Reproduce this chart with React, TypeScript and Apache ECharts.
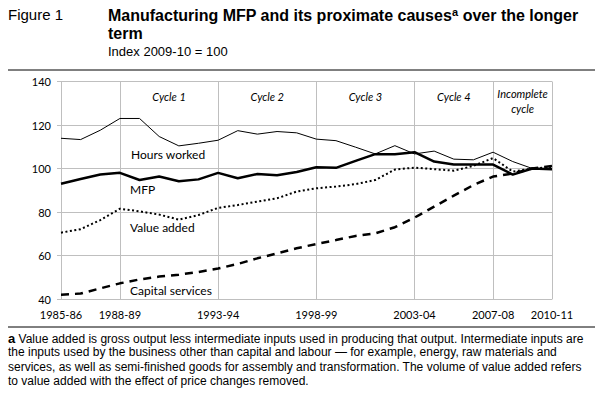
import React, { useEffect, useRef } from "react";
import * as echarts from "echarts";

const categories = [
  "1985-86", "1986-87", "1987-88", "1988-89", "1989-90", "1990-91", "1991-92",
  "1992-93", "1993-94", "1994-95", "1995-96", "1996-97", "1997-98", "1998-99",
  "1999-00", "2000-01", "2001-02", "2002-03", "2003-04", "2004-05", "2005-06",
  "2006-07", "2007-08", "2008-09", "2009-10", "2010-11",
];

const hoursWorked = [
  113.9, 113.3, 117.6, 123, 123, 114.7, 110.4, 111.6, 113, 117.4, 115.8, 117, 116.4,
  113.5, 112.8, 109.8, 106.7, 110.5, 106.7, 108, 104.3, 104, 107.5, 103.2, 100, 99.5,
];
const mfp = [
  93, 95.2, 97.2, 98, 94.7, 96.3, 94.1, 95, 98, 95.5, 97.5, 96.9, 98.4,
  100.6, 100.3, 103.5, 106.6, 106.6, 107.5, 103.2, 101.8, 101.8, 101.8, 97.2, 100, 99.6,
];
const valueAdded = [
  70.5, 72.1, 76.3, 81.5, 80.3, 78.8, 76.5, 78.6, 81.9, 83.2, 84.8, 86.3, 89.4,
  90.9, 91.7, 92.8, 94.7, 99.5, 100.4, 99.7, 99, 101.2, 104.8, 98.6, 100, 100.6,
];
const capitalServices = [
  42, 42.5, 44.9, 47.2, 49, 50.3, 51.2, 52.4, 54, 56.1, 58.7, 61, 63.3,
  65.3, 67.1, 69, 70.2, 73, 77.4, 82.5, 87.5, 92.4, 96.3, 97.7, 100, 101.2,
];

const labelIndices = [0, 3, 8, 13, 18, 22, 25];
const gridIndices = [3, 8, 13, 18, 22, 25];

const cycleNames = ["Cycle 1", "Cycle 2", "Cycle 3", "Cycle 4", "Incomplete\ncycle"];
const cycleStarts = ["1988-89", "1993-94", "1998-99", "2003-04", "2007-08"];
const cycleEnds = ["1993-94", "1998-99", "2003-04", "2007-08", "2010-11"];

const yTicks = { min: 40, max: 140, interval: 20 };

const footLines = [
  " Value added is gross output less intermediate inputs used in producing that output. Intermediate inputs are",
  "the inputs used by the business other than capital and labour \u2014 for example, energy, raw materials and",
  "services, as well as semi-finished goods for assembly and transformation. The volume of value added refers",
  "to value added with the effect of price changes removed.",
];

const CHART_FONT = "Lato, 'Open Sans', sans-serif";
const DOC_FONT = "'Liberation Sans', Arial, sans-serif";
const GRID_COLOR = "#bfbfbf";

export default function App() {
  const ref = useRef<HTMLDivElement>(null);

  useEffect(() => {
    if (!ref.current) return;
    const chart = echarts.init(ref.current, null, { renderer: "svg" });

    const footTop = 338.5;
    const footStep = 14.6;
    const footGraphics: any[] = footLines.map((line, i) => ({
      type: "text",
      left: 8,
      top: footTop + i * footStep - 7,
      style: i === 0
        ? {
            text: "{s|a}{t|" + line + "}",
            rich: {
              s: { fontFamily: DOC_FONT, fontSize: 13, fontWeight: "bold", fill: "#000", verticalAlign: "top", lineHeight: 14 },
              t: { fontFamily: DOC_FONT, fontSize: 12, fill: "#000", lineHeight: 14 },
            },
          }
        : {
            text: line,
            fontFamily: DOC_FONT,
            fontSize: 12,
            fill: "#000",
          },
    }));

    const option: any = {
      animation: false,
      backgroundColor: "#fff",
      grid: {
        left: 61,
        right: 49,
        top: 81.5,
        bottom: 95,
        containLabel: false,
        outerBoundsMode: "none",
      },
      xAxis: {
        type: "category",
        data: categories,
        boundaryGap: false,
        axisLine: { show: true, lineStyle: { color: GRID_COLOR, width: 1 } },
        axisTick: { show: false },
        axisLabel: {
          interval: (idx: number) => labelIndices.includes(idx),
          color: "#000",
          fontFamily: CHART_FONT,
          fontSize: 11,
          margin: 10,
        },
        splitLine: {
          show: true,
          interval: (idx: number) => gridIndices.includes(idx),
          lineStyle: { color: GRID_COLOR, width: 1 },
        },
      },
      yAxis: {
        type: "value",
        min: yTicks.min,
        max: yTicks.max,
        interval: yTicks.interval,
        axisLine: { show: true, lineStyle: { color: GRID_COLOR, width: 1 } },
        axisTick: { show: true, length: 4, lineStyle: { color: GRID_COLOR } },
        axisLabel: {
          color: "#000",
          fontFamily: CHART_FONT,
          fontSize: 11,
          margin: 10,
        },
        splitLine: { show: true, lineStyle: { color: GRID_COLOR, width: 1 } },
      },
      series: [
        {
          name: "Capital services",
          type: "line",
          data: capitalServices,
          symbol: "none",
          lineStyle: { color: "#000", width: 2.5, type: [8, 6] },
          z: 2,
        },
        {
          name: "Value added",
          type: "line",
          data: valueAdded,
          symbol: "none",
          lineStyle: { color: "#000", width: 2, type: [2, 2.5] },
          z: 3,
        },
        {
          name: "Hours worked",
          type: "line",
          data: hoursWorked,
          symbol: "none",
          lineStyle: { color: "#000", width: 1 },
          z: 4,
          markArea: {
            silent: true,
            itemStyle: { color: "rgba(0,0,0,0)" },
            data: cycleNames.map((name, i) => [
              {
                name,
                xAxis: cycleStarts[i],
                label: {
                  show: true,
                  position: "insideTop",
                  distance: i === 4 ? 4 : 7,
                  fontFamily: CHART_FONT,
                  fontStyle: "italic",
                  fontSize: 11,
                  lineHeight: 15,
                  color: "#000",
                  align: "center",
                },
              },
              { xAxis: cycleEnds[i] },
            ]),
          },
        },
        {
          name: "MFP",
          type: "line",
          data: mfp,
          symbol: "none",
          lineStyle: { color: "#000", width: 2.5 },
          z: 5,
        },
      ],
      graphic: [
        {
          type: "text",
          left: 8,
          top: 7,
          style: { text: "Figure 1", fontFamily: DOC_FONT, fontSize: 15, fill: "#000" },
        },
        {
          type: "text",
          left: 108,
          top: 6,
          style: {
            text: "{b|Manufacturing MFP and its proximate causes}{s|a}{b| over the longer}\n{b|term}",
            rich: {
              b: { fontFamily: DOC_FONT, fontSize: 16, fontWeight: "bold", fill: "#000", lineHeight: 18 },
              s: { fontFamily: DOC_FONT, fontSize: 11, fontWeight: "bold", fill: "#000", lineHeight: 18, verticalAlign: "top", padding: [0, 0, 6, 0] },
            },
          },
        },
        {
          type: "text",
          left: 108,
          top: 45,
          style: { text: "Index 2009-10 = 100", fontFamily: DOC_FONT, fontSize: 13, fill: "#000" },
        },
        {
          type: "line",
          shape: { x1: 8, y1: 70, x2: 595, y2: 70 },
          style: { stroke: "#000", lineWidth: 1 },
        },
        {
          type: "line",
          shape: { x1: 8, y1: 327, x2: 595, y2: 327 },
          style: { stroke: "#000", lineWidth: 1 },
        },
        {
          type: "text",
          left: 131,
          top: 148,
          style: { text: "Hours worked", fontFamily: CHART_FONT, fontSize: 12, fill: "#000" },
        },
        {
          type: "text",
          left: 130,
          top: 183,
          style: { text: "MFP", fontFamily: CHART_FONT, fontSize: 12, fill: "#000" },
        },
        {
          type: "text",
          left: 130,
          top: 221.5,
          style: { text: "Value added", fontFamily: CHART_FONT, fontSize: 12, fill: "#000" },
        },
        {
          type: "text",
          left: 130,
          top: 284,
          style: { text: "Capital services", fontFamily: CHART_FONT, fontSize: 12, fill: "#000" },
        },
        ...footGraphics,
      ],
    };

    chart.setOption(option);
    return () => chart.dispose();
  }, []);

  return (
    <div
      ref={ref}
      style={{ position: "absolute", left: 0, top: 0, width: 601, height: 394 }}
    />
  );
}
